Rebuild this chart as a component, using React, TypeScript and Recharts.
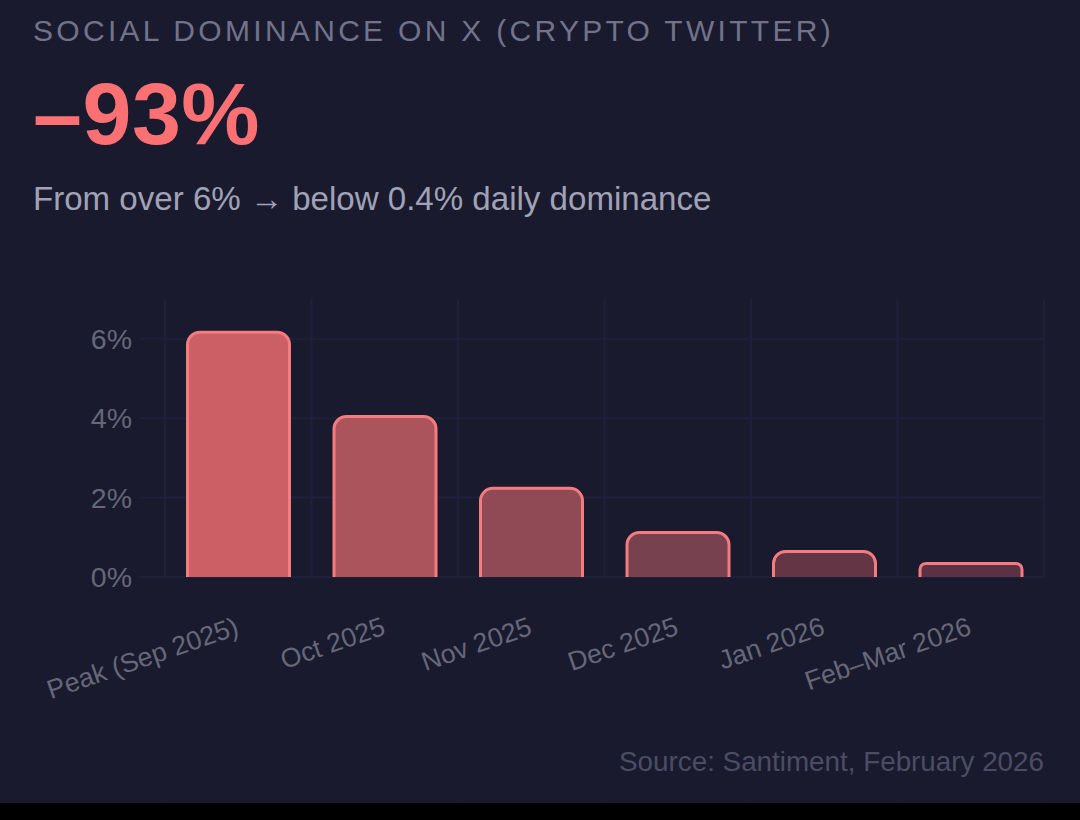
import { BarChart, Bar, XAxis, YAxis, CartesianGrid } from 'recharts';

const categories = ['Peak (Sep 2025)', 'Oct 2025', 'Nov 2025', 'Dec 2025', 'Jan 2026', 'Feb–Mar 2026'];
const dominance = [6.2, 4.08, 2.27, 1.16, 0.68, 0.38];
const barFills = ['#cc5f65', '#ab545c', '#8f4a55', '#774150', '#643645', '#5a3243'];
const yTicks = [0, 2, 4, 6];
const gridTicks = [0, 1, 2, 3, 4, 5, 6];

const chartData = categories.map((name, i) => ({ name, slot: i, value: dominance[i], fill: barFills[i] }));

const FONT = '"Liberation Sans", Arial, sans-serif';
const GRID = '#1e2039';

function OutlinedBar(props: any) {
  const { x, y, width, height, fill } = props;
  const r = Math.min(14, height / 2);
  const b = y + height;
  const i = 1.5;
  const outline = `M${x + i},${b} L${x + i},${y + r} A${r - i},${r - i} 0 0 1 ${x + r},${y + i} L${x + width - r},${y + i} A${r - i},${r - i} 0 0 1 ${x + width - i},${y + r} L${x + width - i},${b}`;
  return (
    <g>
      <path d={`${outline} Z`} fill={fill} stroke="none" />
      <path d={outline} fill="none" stroke="#f47b7e" strokeWidth={3} />
    </g>
  );
}

function SlantedTick(props: any) {
  const { x, y, payload } = props;
  return (
    <text
      x={x + 2}
      y={y + 49}
      textAnchor="end"
      fontSize={26.7}
      fontFamily={FONT}
      fill="#666779"
      transform={`rotate(-19 ${x + 2} ${y + 49})`}
    >
      {payload.value}
    </text>
  );
}

export default function App() {
  return (
    <div style={{ position: 'absolute', left: 0, top: 0, width: 1080, height: 820, background: '#000', overflow: 'hidden', fontFamily: FONT }}>
      <div style={{ position: 'absolute', left: 0, top: 0, width: 1080, height: 803, background: '#191a2e' }}>
        <BarChart
          width={1080}
          height={803}
          data={chartData}
          margin={{ top: 299, right: 36, bottom: 0, left: 0 }}
        >
          <CartesianGrid xAxisId="grid" stroke={GRID} strokeWidth={2} horizontalValues={yTicks} />
          <XAxis
            xAxisId="grid"
            type="number"
            dataKey="slot"
            domain={[0, 6]}
            ticks={gridTicks}
            height={1}
            axisLine={false}
            tick={() => <g />}
            tickSize={23}
            tickLine={{ stroke: GRID, strokeWidth: 2 }}
          />
          <XAxis
            xAxisId="cat"
            dataKey="name"
            height={225}
            interval={0}
            axisLine={false}
            tickLine={false}
            tick={<SlantedTick />}
          />
          <YAxis
            width={165}
            domain={[0, 7]}
            ticks={yTicks}
            tickFormatter={(v: number) => `${v}%`}
            axisLine={false}
            tickSize={25}
            tickMargin={8}
            tickLine={{ stroke: GRID, strokeWidth: 2 }}
            tick={{ fontSize: 28.5, fontFamily: FONT, fill: '#666779' }}
          />
          <Bar xAxisId="cat" dataKey="value" barSize={105} shape={<OutlinedBar />} isAnimationActive={false} />
        </BarChart>
        <div style={{ position: 'absolute', left: 33, top: 14, fontSize: 30, lineHeight: '34px', letterSpacing: 3.3, color: '#72738a', whiteSpace: 'nowrap' }}>
          SOCIAL DOMINANCE ON X (CRYPTO TWITTER)
        </div>
        <div style={{ position: 'absolute', left: 33, top: 64, fontSize: 88, lineHeight: '100px', fontWeight: 700, letterSpacing: 0.5, color: '#fb7173', whiteSpace: 'nowrap' }}>
          –93%
        </div>
        <div style={{ position: 'absolute', left: 33, top: 180, fontSize: 33.1, lineHeight: '38px', color: '#a1a2b5', whiteSpace: 'nowrap' }}>
          From over 6% → below 0.4% daily dominance
        </div>
        <div style={{ position: 'absolute', right: 36, top: 746, fontSize: 27.8, lineHeight: '32px', color: '#4b4d63', whiteSpace: 'nowrap' }}>
          Source: Santiment, February 2026
        </div>
      </div>
    </div>
  );
}
